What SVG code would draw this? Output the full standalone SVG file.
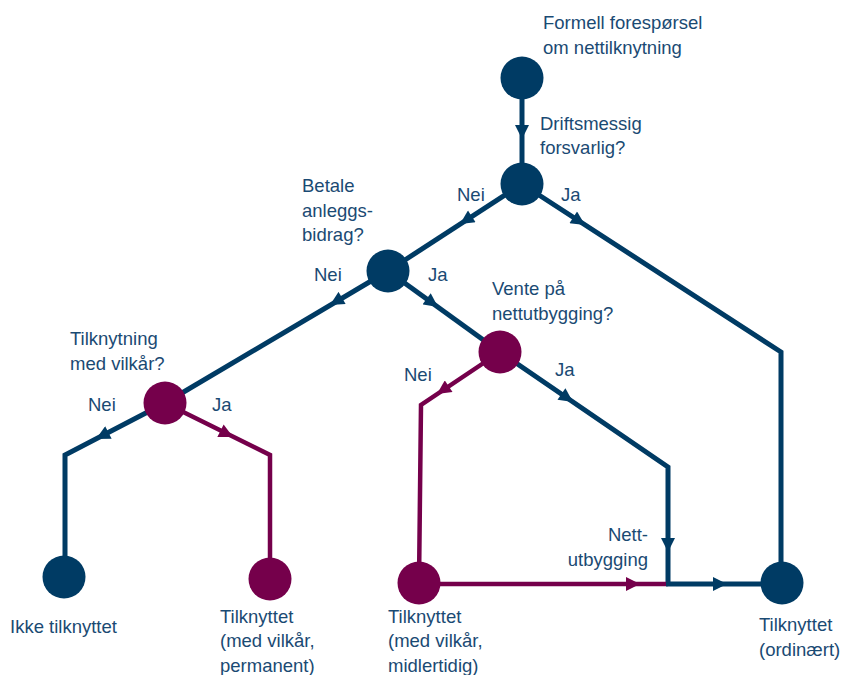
<svg xmlns="http://www.w3.org/2000/svg" width="850" height="675" viewBox="0 0 850 675">
<style>
  .t { font-family: "Liberation Sans", Arial, sans-serif; font-size: 18.5px; fill: #1A4A73; }
  .b { fill: none; stroke: #003B64; stroke-width: 5; stroke-linejoin: miter; }
  .m { fill: none; stroke: #75004B; stroke-width: 4.5; stroke-linejoin: miter; }
  .ab { fill: none; stroke: none; marker-end: url(#arrB); }
  .am { fill: none; stroke: none; marker-end: url(#arrM); }
  .nb { fill: #003B64; }
  .nm { fill: #75004B; }
</style>
<defs>
  <marker id="arrB" viewBox="0 0 10 10" refX="10" refY="5" markerUnits="userSpaceOnUse" markerWidth="15" markerHeight="14" orient="auto">
    <path d="M0,0 L10,5 L0,10 Z" fill="#003B64"/>
  </marker>
  <marker id="arrM" viewBox="0 0 10 10" refX="10" refY="5" markerUnits="userSpaceOnUse" markerWidth="15" markerHeight="14" orient="auto">
    <path d="M0,0 L10,5 L0,10 Z" fill="#75004B"/>
  </marker>
</defs>
<g id="connectors">
  <path class="b" d="M522,98 L522,164"/>
  <path class="ab" d="M522,110 L522,139"/>
  <path class="b" d="M522,184 L388,271"/>
  <path class="ab" d="M522,184 L460,224"/>
  <path class="b" d="M522,184 L781,352 L781,583"/>
  <path class="ab" d="M522,184 L585,225"/>
  <path class="b" d="M388,271 L165,403"/>
  <path class="ab" d="M388,271 L330,305"/>
  <path class="b" d="M388,271 L500,352"/>
  <path class="ab" d="M388,271 L438,307"/>
  <path class="b" d="M165,403 L65,455 L65,577"/>
  <path class="ab" d="M165,403 L96,439"/>
  <path class="m" d="M165,403 L270,455 L270,579"/>
  <path class="am" d="M165,403 L233,437"/>
  <path class="m" d="M500,352 L421,405 L419,583"/>
  <path class="am" d="M500,352 L437,394"/>
  <path class="b" d="M500,352 L668,467 L668,586"/>
  <path class="ab" d="M668,467 L668,552"/>
  <path class="ab" d="M500,352 L573,402"/>
  <path class="m" d="M419,584 L668,584"/>
  <path class="am" d="M419,584 L640,584"/>
  <path class="b" d="M666,584 L782,584"/>
  <path class="ab" d="M666,584 L727,584"/>
</g>
<g id="n-start"><circle class="nb" cx="522" cy="78" r="21.5"/>
  <text class="t" x="543" y="29">Formell forespørsel</text>
  <text class="t" x="543" y="54">om nettilknytning</text></g>
<g id="n-drift"><circle class="nb" cx="522" cy="184" r="21.5"/>
  <text class="t" x="540" y="130">Driftsmessig</text>
  <text class="t" x="540" y="154">forsvarlig?</text>
  <text class="t" x="457" y="201">Nei</text>
  <text class="t" x="561" y="201">Ja</text></g>
<g id="n-betale"><circle class="nb" cx="388" cy="271" r="21.5"/>
  <text class="t" x="302" y="192">Betale</text>
  <text class="t" x="302" y="217">anleggs-</text>
  <text class="t" x="302" y="241">bidrag?</text>
  <text class="t" x="314" y="281">Nei</text>
  <text class="t" x="428" y="281">Ja</text></g>
<g id="n-vilkar"><circle class="nm" cx="165" cy="403" r="21.5"/>
  <text class="t" x="70" y="345">Tilknytning</text>
  <text class="t" x="70" y="370">med vilkår?</text>
  <text class="t" x="88" y="411">Nei</text>
  <text class="t" x="212" y="411">Ja</text></g>
<g id="n-vente"><circle class="nm" cx="500" cy="352" r="21.5"/>
  <text class="t" x="492" y="295">Vente på</text>
  <text class="t" x="492" y="320">nettutbygging?</text>
  <text class="t" x="404" y="381">Nei</text>
  <text class="t" x="555" y="376">Ja</text></g>
<g id="n-ikke"><circle class="nb" cx="64" cy="577" r="21.5"/>
  <text class="t" x="10" y="633">Ikke tilknyttet</text></g>
<g id="n-perm"><circle class="nm" cx="270" cy="579" r="21.5"/>
  <text class="t" x="220" y="623">Tilknyttet</text>
  <text class="t" x="220" y="647">(med vilkår,</text>
  <text class="t" x="220" y="672">permanent)</text></g>
<g id="n-midl"><circle class="nm" cx="419" cy="583" r="21.5"/>
  <text class="t" x="388" y="623">Tilknyttet</text>
  <text class="t" x="388" y="647">(med vilkår,</text>
  <text class="t" x="388" y="672">midlertidig)</text></g>
<g id="n-ord"><circle class="nb" cx="782" cy="583" r="21.5"/>
  <text class="t" x="759" y="631">Tilknyttet</text>
  <text class="t" x="759" y="656">(ordinært)</text></g>
<g id="lbl-nett">
  <text class="t" x="648" y="541" text-anchor="end">Nett-</text>
  <text class="t" x="648" y="566" text-anchor="end">utbygging</text></g>
</svg>
